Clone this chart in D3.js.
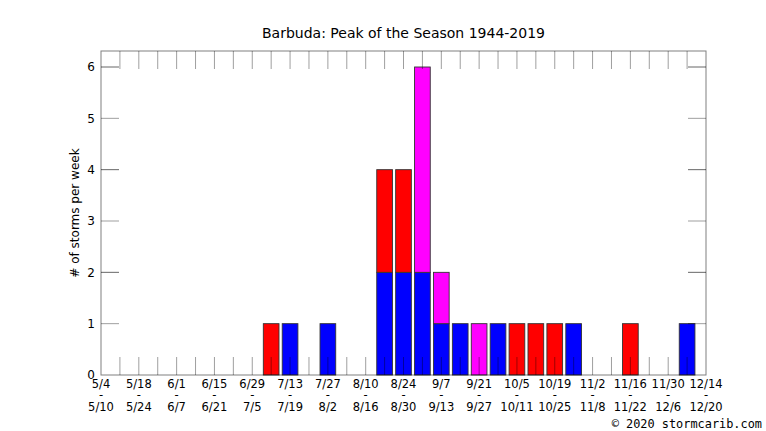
<!DOCTYPE html>
<html><head><meta charset="utf-8">
<script src="https://cdn.jsdelivr.net/npm/d3@7"></script>
<style>body{margin:0;background:#fff;}svg{display:block;font-family:"DejaVu Sans",sans-serif;}</style>
</head><body>
<svg id="c" width="766" height="431"></svg>
<script>
const title = "Barbuda: Peak of the Season 1944-2019";
const yLabel = "# of storms per week";
const credit = "© 2020 stormcarib.com";
// week start index 0 = 5/4 ... 32 = 12/14
const weekStart = ["5/4","5/11","5/18","5/25","6/1","6/8","6/15","6/22","6/29","7/6","7/13","7/20","7/27","8/3","8/10","8/17","8/24","8/31","9/7","9/14","9/21","9/28","10/5","10/12","10/19","10/26","11/2","11/9","11/16","11/23","11/30","12/7","12/14"];
const tickStartLabels = ["5/4","5/18","6/1","6/15","6/29","7/13","7/27","8/10","8/24","9/7","9/21","10/5","10/19","11/2","11/16","11/30","12/14"];
const tickEndLabels = ["5/10","5/24","6/7","6/21","7/5","7/19","8/2","8/16","8/30","9/13","9/27","10/11","10/25","11/8","11/22","12/6","12/20"];
const blue    = [0,0,0,0,0,0,0,0,0,0,1,0,1,0,0,2,2,2,1,1,0,1,0,0,0,1,0,0,0,0,0,1,0];
const red     = [0,0,0,0,0,0,0,0,0,1,0,0,0,0,0,2,2,0,0,0,0,0,1,1,1,0,0,0,1,0,0,0,0];
const magenta = [0,0,0,0,0,0,0,0,0,0,0,0,0,0,0,0,0,4,1,0,1,0,0,0,0,0,0,0,0,0,0,0,0];
const seriesNames = ["blue","red","magenta"];
const seriesColors = ["#0000ff","#ff0000","#ff00ff"];
const yTicks = [0,1,2,3,4,5,6];

const svg = d3.select("#c");
const L=101, R=706, T=51, B=375, TL=18;
const x = d3.scaleLinear().domain([0, weekStart.length-1]).range([L, R]);
const y = d3.scaleLinear().domain([0, 6]).range([B, 67]);
const step = x(1)-x(0);
const bw = step*0.83;

const table = weekStart.map((w,i)=>({i, blue:blue[i], red:red[i], magenta:magenta[i]}));
const stack = d3.stack().keys(seriesNames)(table);

stack.forEach((layer,k)=>{
  svg.append("g").selectAll("rect").data(layer.filter(d=>d[1]-d[0]>0)).join("rect")
    .attr("x", d=>x(d.data.i)-bw/2)
    .attr("width", bw)
    .attr("y", d=>y(d[1]))
    .attr("height", d=>y(d[0])-y(d[1]))
    .attr("fill", seriesColors[k])
    .attr("stroke", "#333")
    .attr("stroke-width", 0.9);
});

const tickCol = "rgba(0,0,0,0.38)";
const g = svg.append("g");
weekStart.forEach((w,i)=>{
  if(i===0||i===weekStart.length-1) return;
  g.append("line").attr("x1",x(i)).attr("x2",x(i)).attr("y1",T).attr("y2",T+TL).attr("stroke",tickCol);
  g.append("line").attr("x1",x(i)).attr("x2",x(i)).attr("y1",B).attr("y2",B-TL).attr("stroke",tickCol);
});
yTicks.forEach(v=>{
  if(v===0) return;
  g.append("line").attr("x1",L).attr("x2",L+TL).attr("y1",y(v)).attr("y2",y(v)).attr("stroke",v%2===0?"rgba(0,0,0,0.6)":tickCol);
  g.append("line").attr("x1",R).attr("x2",R-TL).attr("y1",y(v)).attr("y2",y(v)).attr("stroke",v%2===0?"rgba(0,0,0,0.6)":tickCol);
});
svg.append("rect").attr("x",L).attr("y",T).attr("width",R-L).attr("height",B-T)
  .attr("fill","none").attr("stroke","rgba(0,0,0,0.5)").attr("stroke-width",1);

svg.append("g").selectAll("text").data(yTicks).join("text")
  .attr("x", 95).attr("y", d=>y(d)).attr("dy","0.36em")
  .attr("text-anchor","end").attr("font-size",12).text(d=>d);

const lab = svg.append("g").attr("font-size",11.5).attr("text-anchor","middle");
tickStartLabels.forEach((t,j)=>{
  const xi = x(weekStart.indexOf(t));
  const tx = lab.append("text").attr("x",xi).attr("y",388.3);
  tx.append("tspan").attr("x",xi).attr("y",388.3).text(t);
  tx.append("tspan").attr("x",xi).attr("y",398.5).text("-");
  tx.append("tspan").attr("x",xi).attr("y",410.6).text(tickEndLabels[j]);
});

svg.append("text").attr("x",(L+R)/2).attr("y",38).attr("text-anchor","middle")
  .attr("font-size",14).text(title);
svg.append("text").attr("transform",`translate(79,${(T+B)/2}) rotate(-90)`)
  .attr("text-anchor","middle").attr("font-size",12).text(yLabel);
svg.append("text").attr("x",762).attr("y",428).attr("text-anchor","end")
  .attr("font-family","'DejaVu Sans Mono',monospace").attr("font-size",11.9).text(credit);
</script>
</body></html>
